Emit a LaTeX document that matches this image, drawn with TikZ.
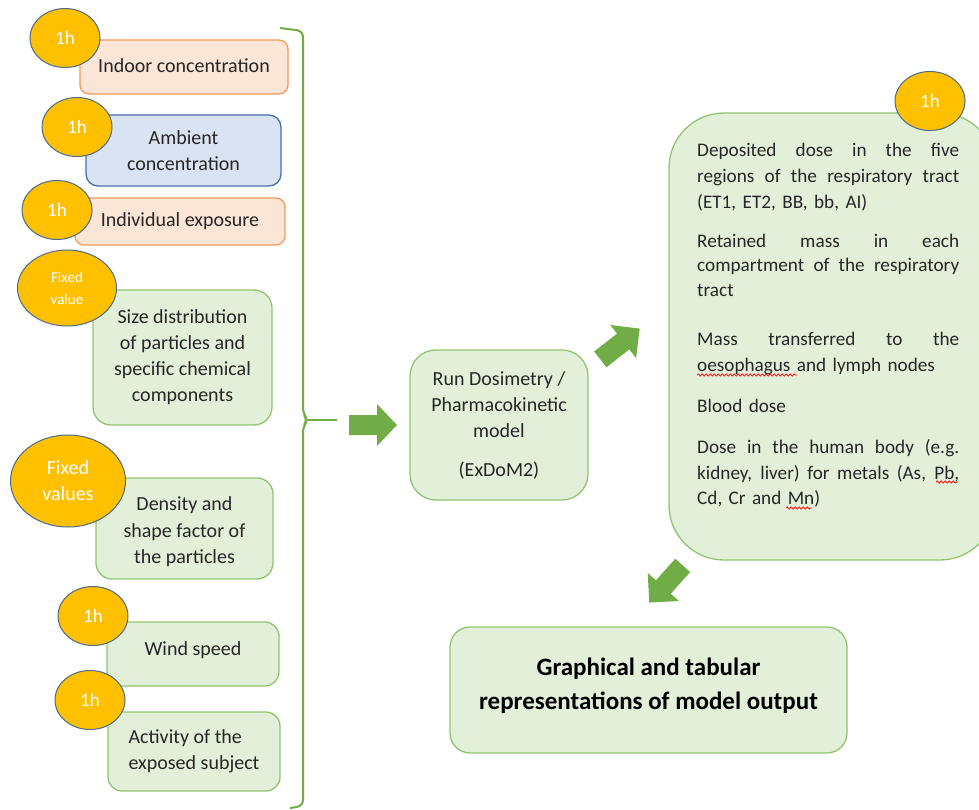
\documentclass[tikz,border=0pt]{standalone}
\usepackage{fontspec}
\setmainfont{Carlito}
\usetikzlibrary{shapes.geometric,decorations.pathmorphing}
\definecolor{peachfill}{HTML}{FBE5D6}
\definecolor{peachline}{HTML}{F19A5B}
\definecolor{bluefill}{HTML}{DAE3F3}
\definecolor{blueline}{HTML}{4A6FA5}
\definecolor{greenfill}{HTML}{E2F0D9}
\definecolor{greenline}{HTML}{92C46F}
\definecolor{arrowgreen}{HTML}{70AD47}
\definecolor{badgefill}{HTML}{FFC000}
\definecolor{badgeline}{HTML}{4A6A8E}
\definecolor{ink}{HTML}{262626}
% a fully justified line of the outputs list
\newcommand\jline[1]{\makebox[262pt][s]{\spaceskip=\fontdimen2\font plus 1fil\relax #1}}
\begin{document}
\begin{tikzpicture}[x=1pt,y=-1pt,
  boxbase/.style={rectangle, draw, line width=1.3pt, align=center, inner sep=0pt,
    text=ink, font=\fontsize{20}{26}\selectfont},
  peachbox/.style={boxbase, fill=peachfill, draw=peachline, rounded corners=9pt},
  bluebox/.style={boxbase, fill=bluefill, draw=blueline, rounded corners=12pt},
  greenbox/.style={boxbase, fill=greenfill, draw=greenline, rounded corners=14pt},
  boxtext/.style={align=center, inner sep=0pt, text=ink, font=\fontsize{20}{26.5}\selectfont},
  badge/.style={ellipse, fill=badgefill, draw=badgeline, line width=1pt, text=white,
    inner sep=0pt, align=center, minimum width=70pt, minimum height=59pt,
    font=\fontsize{19}{26}\selectfont},
  fatarrow/.style={fill=arrowgreen, draw=none},
  bracketline/.style={draw=arrowgreen, line width=2pt, rounded corners=6pt},
  squiggle/.style={draw=red, line width=0.7pt,
    decorate, decoration={snake, amplitude=1.1pt, segment length=4pt}}
]
\useasboundingbox (0,0) rectangle (979,810);
\clip (0,0) rectangle (979,810);

% input boxes
\node[peachbox, minimum width=208pt, minimum height=54pt] (indoor) at (184,67) {\raisebox{3pt}{Indoor concentration}};
\node[bluebox, minimum width=195pt, minimum height=71pt] (ambient) at (183.5,150.5) {Ambient\\concentration};
\node[peachbox, minimum width=210pt, minimum height=47pt] (indiv) at (180,221.5) {Individual exposure};
\node[greenbox, rounded corners=18pt, minimum width=179pt, minimum height=135pt] (size) at (182.5,357.5)
  {Size distribution\\of particles and\\specific chemical\\components};
\node[greenbox, rounded corners=16pt, minimum width=177pt, minimum height=101pt] (density) at (184.5,528.5) {};
\node[boxtext] (densityText) at (184.5,532) {Density and\\shape factor of\\the particles};
\node[greenbox, minimum width=172pt, minimum height=64pt] (wind) at (193,654) {\raisebox{10pt}{Wind speed}};
\node[greenbox, minimum width=172pt, minimum height=79pt, align=left] (activity) at (194,751.5)
  {Activity of the\\exposed subject};

% time-step badges
\node[badge] (bIndoor) at (65,38) {1h};
\node[badge] (bAmbient) at (77,127) {1h};
\node[badge] (bIndiv) at (57,210) {1h};
\node[badge, minimum width=99pt, minimum height=76pt, font=\fontsize{15}{22}\selectfont] (bSize) at (67,288) {Fixed\\value};
\node[badge, minimum width=115pt, minimum height=92pt, font=\fontsize{20}{26}\selectfont] (bDensity) at (68,481) {Fixed\\values};
\node[badge] (bWind) at (93,616) {1h};
\node[badge] (bActivity) at (90,700) {1h};

% bracket collecting the inputs
\draw[bracketline] (280,28) -- (303,31) -- (303,414) -- (308,420) -- (303,426) -- (303,806) -- (290,808);
\draw[bracketline, rounded corners=0pt] (307,420) -- (337,420);

% model box
\node[greenbox, rounded corners=26pt, minimum width=178pt, minimum height=150pt] (model) at (499,425)
  {Run Dosimetry /\\Pharmacokinetic\\model\\[13pt](ExDoM2)};

% outputs box
\node[greenbox, rounded corners=55pt, minimum width=326pt, minimum height=447pt] (outbox) at (832,336.5) {};
\node[anchor=north west, text width=262pt, align=left, inner sep=0pt, text=ink,
      font=\fontsize{19.2}{26}\selectfont] (outputs) at (697,143) {%
  \jline{Deposited dose in the five}\\
  \jline{regions of the respiratory tract}\\
  (ET1, ET2, BB, bb, AI)\\[13pt]
  \jline{Retained mass in each}\\[-2pt]
  \jline{compartment of the respiratory}\\[-1pt]
  tract\\[23pt]
  \jline{Mass transferred to the}\\
  oesophagus and lymph nodes\\[15pt]
  Blood dose\\[15pt]
  \jline{Dose in the human body (e.g.}\\
  \jline{kidney, liver) for metals (As, Pb,}\\[-1pt]
  Cd, Cr and Mn)};
\node[badge] (bOut) at (930,101) {1h};

% spelling marks
\draw[squiggle] (697,375) -- (797,375);
\draw[squiggle] (936,482) -- (958,482);
\draw[squiggle] (786,508) -- (812,508);

% result box
\node[greenbox, rounded corners=20pt, minimum width=397pt, minimum height=126pt] (result) at (648.5,690) {};
\node[align=center, inner sep=0pt, text=black, font=\fontsize{25}{34}\selectfont\bfseries]
  (resultText) at (648.5,686) {Graphical and tabular\\representations of model output};

% block arrows
\begin{scope}[shift={(373,425)}]
  \fill[fatarrow] (-24,-10) -- (4,-10) -- (4,-21) -- (24,0) -- (4,21) -- (4,10) -- (-24,10) -- cycle;
\end{scope}
\begin{scope}[shift={(620,344)}, rotate=38]
  \fill[fatarrow] (-25,-10) -- (4,-10) -- (4,-21) -- (25,0) -- (4,21) -- (4,10) -- (-25,10) -- cycle;
\end{scope}
\begin{scope}[shift={(666,584)}, rotate=228]
  \fill[fatarrow] (-25,-10) -- (4,-10) -- (4,-21) -- (25,0) -- (4,21) -- (4,10) -- (-25,10) -- cycle;
\end{scope}
\end{tikzpicture}
\end{document}
